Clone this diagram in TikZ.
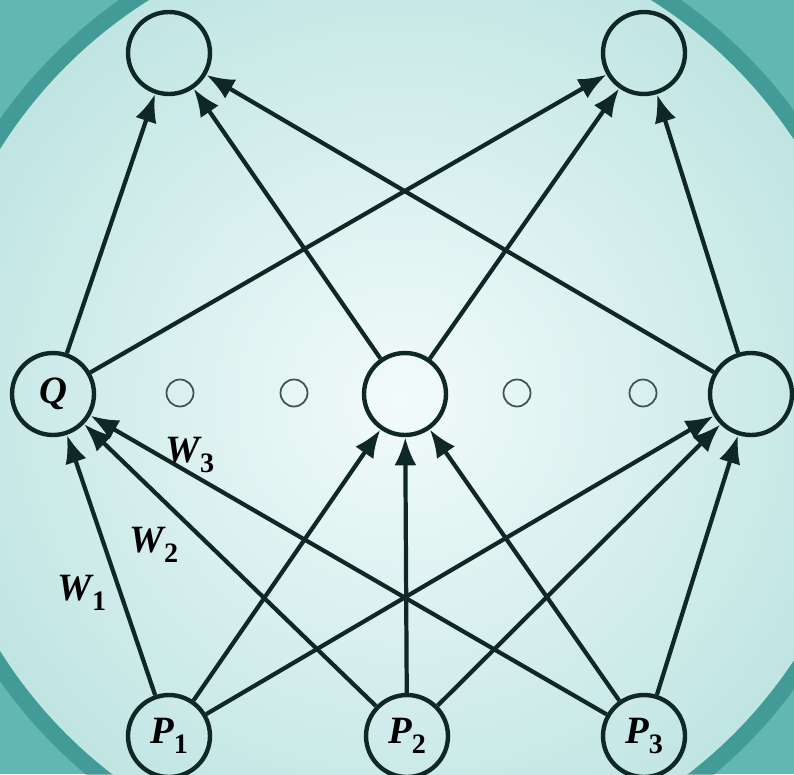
\documentclass[tikz,border=0pt]{standalone}
\usepackage{fontspec}
\setmainfont{Liberation Serif}
\usetikzlibrary{arrows.meta}
\definecolor{NetInk}{HTML}{0F2826}
\definecolor{NetTeal}{HTML}{62B6B3}
\definecolor{NetDeep}{HTML}{2F8A87}
\definecolor{NetPale}{HTML}{C0E5E3}
\definecolor{NetGlow}{HTML}{F2FBFA}
\newcommand{\nvar}[2]{{\bfseries\itshape #1}\raisebox{-6pt}{\fontsize{16}{16}\selectfont\bfseries #2}}
\tikzset{
  neuron/.style={circle,draw=NetInk,line width=2.5pt,minimum size=1.64cm,inner sep=0pt,
    font=\fontsize{22}{22}\selectfont},
  dotnode/.style={circle,draw=NetInk!80,line width=1pt,minimum size=0.54cm,inner sep=0pt},
  wire/.style={-{Latex[length=16pt,width=12.5pt]},line width=2.4pt,draw=NetInk},
  weight/.style={font=\fontsize{22}{22}\selectfont,inner sep=0pt}
}
\begin{document}
\begin{tikzpicture}[x=0.02cm,y=-0.02cm]
  \useasboundingbox (0,0) rectangle (794,774);
  \clip (0,0) rectangle (794,774);
  % backdrop
  \fill[NetTeal] (0,0) rectangle (794,774);
  \draw[NetDeep,line width=10pt,opacity=.6] (400,400) circle (480);
  \shade[inner color=NetGlow,outer color=NetPale] (400,400) circle (472);
  % output layer
  \node[neuron] (out1) at (169,53) {};
  \node[neuron] (out2) at (644,53) {};
  % hidden layer
  \node[neuron] (q) at (53,394) {{\bfseries\itshape Q}};
  \node[neuron] (h2) at (405,394) {};
  \node[neuron] (h3) at (751,394) {};
  \node[dotnode] (d1) at (180,393) {};
  \node[dotnode] (d2) at (294,393) {};
  \node[dotnode] (d3) at (517,393) {};
  \node[dotnode] (d4) at (643,393) {};
  % input layer
  \node[neuron] (p1) at (169,736) {\nvar{P}{1}};
  \node[neuron] (p2) at (407,736) {\nvar{P}{2}};
  \node[neuron] (p3) at (644,736) {\nvar{P}{3}};
  \draw[wire] (p1)--(q); \draw[wire] (p1)--(h2); \draw[wire] (p1)--(h3);
  \draw[wire] (p2)--(q); \draw[wire] (p2)--(h2); \draw[wire] (p2)--(h3);
  \draw[wire] (p3)--(q); \draw[wire] (p3)--(h2); \draw[wire] (p3)--(h3);
  \draw[wire] (q)--(out1); \draw[wire] (q)--(out2);
  \draw[wire] (h2)--(out1); \draw[wire] (h2)--(out2);
  \draw[wire] (h3)--(out1); \draw[wire] (h3)--(out2);
  % weights on Q
  \node[weight] (w1) at (82,593) {\nvar{W}{1}};
  \node[weight] (w2) at (154,545) {\nvar{W}{2}};
  \node[weight] (w3) at (190,455) {\nvar{W}{3}};
\end{tikzpicture}
\end{document}
